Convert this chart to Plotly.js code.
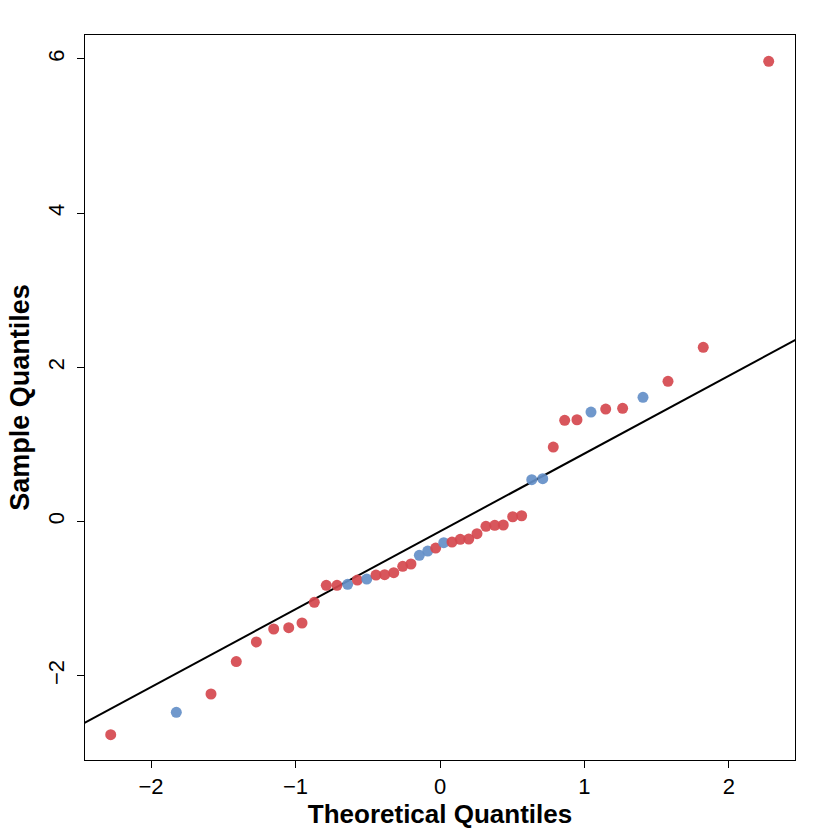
<!DOCTYPE html>
<html>
<head>
<meta charset="utf-8">
<script src="https://cdn.plot.ly/plotly-3.0.1.min.js"></script>
<style>html,body{margin:0;padding:0;background:#fff;}#chart{width:830px;height:830px;}</style>
</head>
<body>
<div id="chart"></div>
<script>
// Theoretical quantiles (x) and sample quantiles (y)
const theoretical = [-2.279,-1.825,-1.585,-1.410,-1.271,-1.151,-1.047,-0.955,-0.870,-0.787,
  -0.713,-0.639,-0.572,-0.507,-0.443,-0.383,-0.320,-0.258,-0.201,-0.143,
  -0.085,-0.030,0.026,0.083,0.140,0.199,0.256,0.318,0.379,0.438,
  0.503,0.565,0.635,0.711,0.784,0.863,0.948,1.045,1.147,1.264,
  1.405,1.578,1.822,2.275];
const sample = [-2.765,-2.475,-2.237,-1.816,-1.562,-1.394,-1.377,-1.316,-1.048,-0.827,
  -0.827,-0.815,-0.759,-0.746,-0.694,-0.690,-0.664,-0.581,-0.551,-0.438,
  -0.383,-0.344,-0.275,-0.266,-0.231,-0.227,-0.158,-0.062,-0.049,-0.045,
  0.062,0.075,0.542,0.555,0.966,1.313,1.320,1.420,1.459,1.468,
  1.611,1.818,2.259,5.969];
const group = ['r','b','r','r','r','r','r','r','r','r',
  'r','b','r','b','r','r','r','r','r','b',
  'b','r','b','r','r','r','r','r','r','r',
  'r','r','b','b','r','r','r','b','r','r',
  'b','r','r','r'];
// Reference line (qqline)
const lineIntercept = -0.128;
const lineSlope = 1.010;
const xTicks = [-2,-1,0,1,2];
const yTicks = [-2,0,2,4,6];

const colorMap = {r:'#D5484E', b:'#648FC8'};
const lineX = [-3, 3];
const lineY = lineX.map(v => lineIntercept + lineSlope*v);

const traces = [
  {x: lineX, y: lineY, mode:'lines', type:'scatter', line:{color:'#000', width:2}, hoverinfo:'skip', cliponaxis:true},
  {x: theoretical, y: sample, mode:'markers', type:'scatter',
   marker:{size:11, color: group.map(g=>colorMap[g]), opacity:0.92, line:{width:0}}, cliponaxis:false}
];

const font = {family:'"Liberation Sans", Arial, Helvetica, sans-serif', color:'#000'};
const layout = {
  width:830, height:830,
  margin:{l:85, r:35, t:35, b:70},
  paper_bgcolor:'#fff', plot_bgcolor:'#fff',
  showlegend:false,
  font: font,
  xaxis:{
    range:[-2.457, 2.457], tickvals:xTicks, ticks:'outside', ticklen:7, tickwidth:1, tickcolor:'#000',
    showline:true, mirror:true, linecolor:'#000', linewidth:1, showgrid:false, zeroline:false,
    ticklabelstandoff:0,
    tickfont:{size:22, family:font.family, color:'#000'},
    title:{text:'<b>Theoretical Quantiles</b>', font:{size:26, family:font.family, color:'#000'}, standoff:4}
  },
  yaxis:{
    range:[-3.093, 6.310], tickvals:yTicks, ticks:'outside', ticklen:7, tickwidth:1, tickcolor:'#000',
    showline:true, mirror:true, linecolor:'#000', linewidth:1, showgrid:false, zeroline:false,
    tickangle:-90,
    ticklabelstandoff:4,
    tickfont:{size:22, family:font.family, color:'#000'},
    title:{text:'<b>Sample Quantiles</b>', font:{size:27, family:font.family, color:'#000'}, standoff:6}
  }
};
Plotly.newPlot('chart', traces, layout, {displayModeBar:false, staticPlot:true});
</script>
</body>
</html>
